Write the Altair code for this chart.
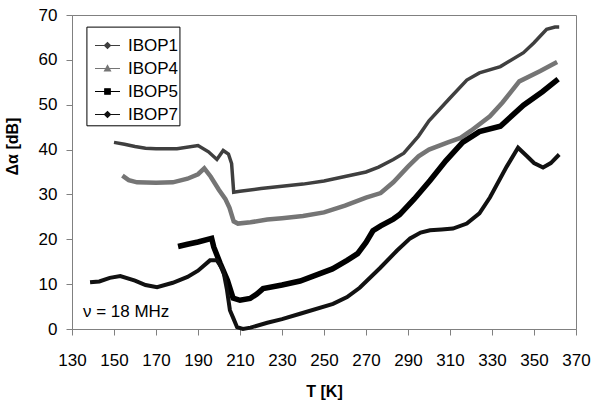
import altair as alt
import pandas as pd

series_names = ["IBOP1", "IBOP4", "IBOP5", "IBOP7"]
series_colors = ["#3f3f3f", "#757575", "#000000", "#111111"]
series_widths = [3.5, 4.5, 5.5, 4]
# legend symbols: short line with the series marker in the middle
series_symbols = [
    "M-1,0H1M-0.24,0L0,-0.24L0.24,0L0,0.24Z",
    "M-1,0H1M-0.24,0.2L0,-0.24L0.24,0.2Z",
    "M-1,0H1M-0.22,-0.22H0.22V0.22H-0.22Z",
    "M-1,0H1M-0.24,0L0,-0.24L0.24,0L0,0.24Z",
]

t_ibop1 = [150, 155, 160, 165, 170, 180, 190, 195, 199, 202, 204.5, 206, 207, 210, 220, 230, 240, 250,
           260, 270, 276, 283, 288, 295, 300, 310, 318, 324, 334, 345, 350, 356, 360, 362]
v_ibop1 = [41.6, 41.2, 40.7, 40.3, 40.2, 40.2, 40.9, 39.5, 37.8, 39.8, 39.0, 36.9, 30.5, 30.7, 31.3, 31.8,
           32.3, 33.0, 34.0, 35.0, 36.1, 37.8, 39.2, 43.0, 46.4, 51.5, 55.5, 57.1, 58.5, 61.6, 63.8, 66.8,
           67.3, 67.3]

t_ibop4 = [154, 157, 161, 170, 178, 185, 190, 193, 196, 200, 203, 205, 207, 209, 215, 223, 230, 240, 250,
           260, 270, 277, 283, 290, 295, 300, 309, 315, 320, 329, 335, 343, 353, 361]
v_ibop4 = [34.2, 33.2, 32.7, 32.6, 32.7, 33.5, 34.5, 35.8, 34.0, 31.0, 29.0, 27.0, 24.0, 23.5, 23.8, 24.4,
           24.7, 25.2, 26.0, 27.5, 29.3, 30.3, 32.7, 36.2, 38.5, 40.0, 41.6, 42.6, 44.2, 47.4, 50.5, 55.2,
           57.5, 59.5]

t_ibop5 = [180.5, 185, 190, 196.5, 197.5, 200.5, 204, 206.7, 210, 214.8, 218, 221, 230, 238.6, 254, 261,
           266, 270, 273.3, 277, 283, 286, 293, 300.5, 308, 316, 324, 334, 345, 354, 361.5]
v_ibop5 = [18.4, 18.9, 19.4, 20.2, 18.3, 14.7, 10.9, 6.9, 6.4, 6.8, 7.8, 9.0, 9.8, 10.7, 13.4, 15.3, 16.8,
           19.3, 21.9, 23.0, 24.5, 25.5, 29.0, 33.1, 37.5, 41.6, 44.0, 45.2, 49.9, 52.9, 55.7]

t_ibop7 = [138.6, 143, 148, 153, 160, 165, 170.5, 178, 185, 190, 195.7, 199, 202, 203.8, 205.2, 207, 208.6,
           211.4, 215, 223, 230, 238.6, 254.3, 261, 267, 276.7, 284.8, 291, 296, 300.5, 306, 311.4, 318,
           324, 329, 337, 342.4, 346.7, 350, 354.3, 358, 362]
v_ibop7 = [10.4, 10.6, 11.4, 11.8, 10.8, 9.8, 9.3, 10.3, 11.6, 13.0, 15.3, 15.3, 13.1, 8.7, 4.2, 2.2, 0.4,
           0.0, 0.3, 1.4, 2.2, 3.4, 5.6, 7.1, 9.2, 13.6, 17.5, 20.2, 21.5, 22.0, 22.2, 22.4, 23.5, 25.8,
           29.3, 36.2, 40.4, 38.5, 37.0, 36.0, 37.0, 38.9]

x_ticks = list(range(130, 371, 20))
y_ticks = list(range(0, 71, 10))
annotation = "ν = 18 MHz"
# extent of the legend box in data units (T from, T to, value from, value to)
legend_box = [137.1, 181.4, 45.3, 67.3]

all_t = [t_ibop1, t_ibop4, t_ibop5, t_ibop7]
all_v = [v_ibop1, v_ibop4, v_ibop5, v_ibop7]
rows = []
for name, c, w, ts, vs in zip(series_names, series_colors, series_widths, all_t, all_v):
    for i, (t, v) in enumerate(zip(ts, vs)):
        rows.append({"series": name, "lc": c, "sw": w, "T": t, "v": v, "ord": i})
df = pd.DataFrame(rows)

FONT = "Liberation Sans"

x_enc = alt.X("T:Q", scale=alt.Scale(domain=[130, 370], nice=False, zero=False),
              axis=alt.Axis(values=x_ticks, title="T [K]", grid=False, tickSize=6,
                            labelOverlap=False, labelFlush=False,
                            labelPadding=17, titlePadding=15))
y_enc = alt.Y("v:Q", scale=alt.Scale(domain=[0, 70], nice=False),
              axis=alt.Axis(values=y_ticks, title="Δα [dB]", grid=False, tickSize=6,
                            labelOverlap=False, labelFlush=False,
                            labelPadding=9, titleX=-52, titleY=131, titleAngle=270,
                            titleAlign="center", titleBaseline="bottom"))

legend = alt.Legend(orient="none", legendX=22, legendY=17, title=None,
                    symbolSize=625, symbolOpacity=1, symbolStrokeWidth=1.2,
                    labelFont=FONT, labelFontSize=17, labelColor="black",
                    labelOffset=7, rowPadding=1, padding=0)

points = alt.Chart(df).mark_point(filled=True, size=8, opacity=0, strokeWidth=1.2).encode(
    x=x_enc, y=y_enc,
    shape=alt.Shape("series:N", scale=alt.Scale(domain=series_names, range=series_symbols),
                    legend=legend),
    fill=alt.Fill("series:N", scale=alt.Scale(domain=series_names, range=series_colors),
                  legend=legend),
    stroke=alt.Stroke("series:N", scale=alt.Scale(domain=series_names, range=series_colors),
                      legend=legend),
)

lines = alt.Chart(df).mark_line().encode(
    x=x_enc, y=y_enc,
    color=alt.Color("lc:N", scale=None),
    detail="series:N",
    strokeWidth=alt.StrokeWidth("sw:Q", scale=None),
    order="ord:Q",
)

# legend frame: white box with a thin black border behind the legend entries
frame_df = pd.DataFrame({"T": [legend_box[0]], "T2": [legend_box[1]],
                         "v": [legend_box[2]], "v2": [legend_box[3]]})
frame = alt.Chart(frame_df).mark_rect(fill="white", stroke="black", strokeWidth=1,
                                      fillOpacity=1, strokeOpacity=1).encode(
    x=alt.X("T:Q"), x2="T2:Q", y=alt.Y("v:Q"), y2="v2:Q")

ann_df = pd.DataFrame({"T": [135.2], "v": [3.8], "label": [annotation]})
text = alt.Chart(ann_df).mark_text(align="left", baseline="middle", font=FONT, fontSize=17,
                                   color="black").encode(
    x=alt.X("T:Q"), y=alt.Y("v:Q"), text="label:N")

chart = alt.layer(points, lines, frame, text).properties(
    width=504, height=314,
    autosize=alt.AutoSizeParams(type="none"),
    padding={"left": 72, "top": 15, "right": 17, "bottom": 72},
    background="white",
).configure_view(
    stroke="#808080", strokeWidth=1
).configure_axis(
    labelFont=FONT, labelFontSize=17, labelColor="black",
    titleFont=FONT, titleFontSize=16, titleFontWeight="bold", titleColor="black",
    domainColor="#808080", tickColor="#808080", domainWidth=1, tickWidth=1,
)

chart.save("out.html", embed_options={"renderer": "svg", "actions": False})
